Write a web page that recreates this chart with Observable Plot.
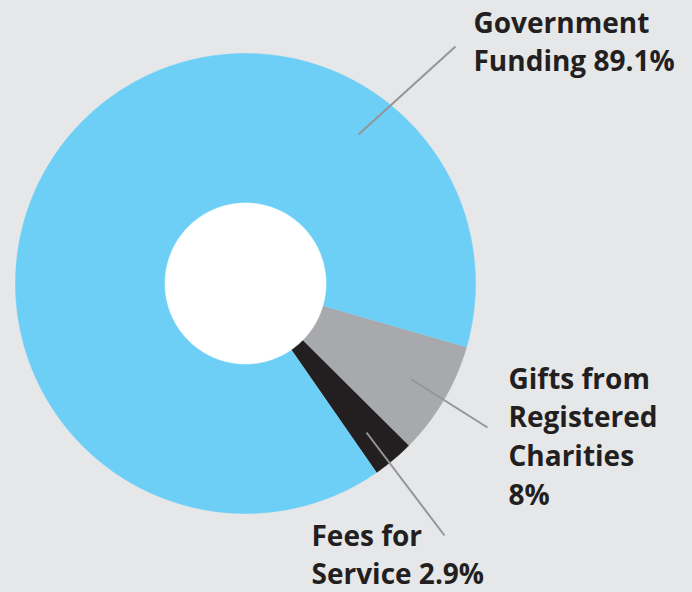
<!DOCTYPE html>
<html>
<head>
<meta charset="utf-8">
<script src="https://cdn.jsdelivr.net/npm/d3@7"></script>
<script src="https://cdn.jsdelivr.net/npm/@observablehq/plot@0.6"></script>
<style>
  html, body { margin: 0; padding: 0; background: #e6e7e8; }
  #chart svg { display: block; background: #e6e7e8; }
</style>
</head>
<body>
<div id="chart"></div>
<script>
// ---- data ----
const categories = ["Gifts from Registered Charities", "Fees for Service", "Government Funding"];
const shares = [8, 2.9, 89.1];
const labels = ["Gifts from\nRegistered\nCharities\n8%", "Fees for\nService 2.9%", "Government\nFunding 89.1%"];
const colors = ["#a7a9ac", "#231f20", "#6dcff6"];

// ---- layout (pixels) ----
const W = 692, H = 592;
const cx = 245, cy = 283, rOuter = 230, rInner = 80;
const startDeg = 106;
// label anchors and leader lines: [textX, firstBaselineY, lineX1, lineY1, lineX2, lineY2]
const labelLayout = [
  [508, 388, 411, 379, 487, 427],
  [311, 545, 366, 432, 444, 535],
  [473, 32, 358, 134, 455, 46]
];
const fontSize = 28;
const lineHeight = 39 / fontSize;

const pie = d3.pie().sort(null).value(d => d.share)
  .startAngle(startDeg * Math.PI / 180)
  .endAngle(startDeg * Math.PI / 180 + 2 * Math.PI);
const rows = categories.map((c, i) => ({category: c, share: shares[i]}));
const arcs = pie(rows);

function pt(r, a) { return {x: cx + r * Math.sin(a), y: cy - r * Math.cos(a)}; }

const poly = [];
arcs.forEach(a => {
  const n = Math.max(8, Math.ceil((a.endAngle - a.startAngle) / 0.01));
  for (let k = 0; k <= n; k++) {
    const t = a.startAngle + (a.endAngle - a.startAngle) * k / n;
    poly.push({key: a.data.category, ...pt(rOuter, t)});
  }
  for (let k = n; k >= 0; k--) {
    const t = a.startAngle + (a.endAngle - a.startAngle) * k / n;
    poly.push({key: a.data.category, ...pt(rInner, t)});
  }
});
// white hole
for (let k = 0; k <= 400; k++) {
  poly.push({key: "hole", ...pt(rInner + 0.5, 2 * Math.PI * k / 400)});
}

const labelData = categories.map((c, i) => ({
  text: labels[i],
  x: labelLayout[i][0], y: labelLayout[i][1] - 0.71 * lineHeight * fontSize,
  x1: labelLayout[i][2], y1: labelLayout[i][3], x2: labelLayout[i][4], y2: labelLayout[i][5]
}));

const chart = Plot.plot({
  width: W, height: H,
  margin: 0,
  style: {background: "#e6e7e8"},
  x: {domain: [0, W], range: [0, W], axis: null},
  y: {domain: [0, H], range: [0, H], axis: null},
  color: {type: "ordinal", domain: [...categories, "hole"], range: [...colors, "#ffffff"]},
  marks: [
    Plot.line(poly, {x: "x", y: "y", z: "key", fill: "key", stroke: "key", strokeWidth: 0.5, curve: "linear"}),
    Plot.link(labelData, {x1: "x1", y1: "y1", x2: "x2", y2: "y2", stroke: "#939598", strokeWidth: 2}),
    Plot.text(labelData, {
      x: "x", y: "y", text: "text",
      textAnchor: "start", lineAnchor: "top", lineHeight: lineHeight,
      fontSize: fontSize, fontWeight: 700, fontFamily: "'Open Sans', sans-serif",
      fill: "#231f20"
    })
  ]
});
document.getElementById("chart").appendChild(chart);
</script>
</body>
</html>
